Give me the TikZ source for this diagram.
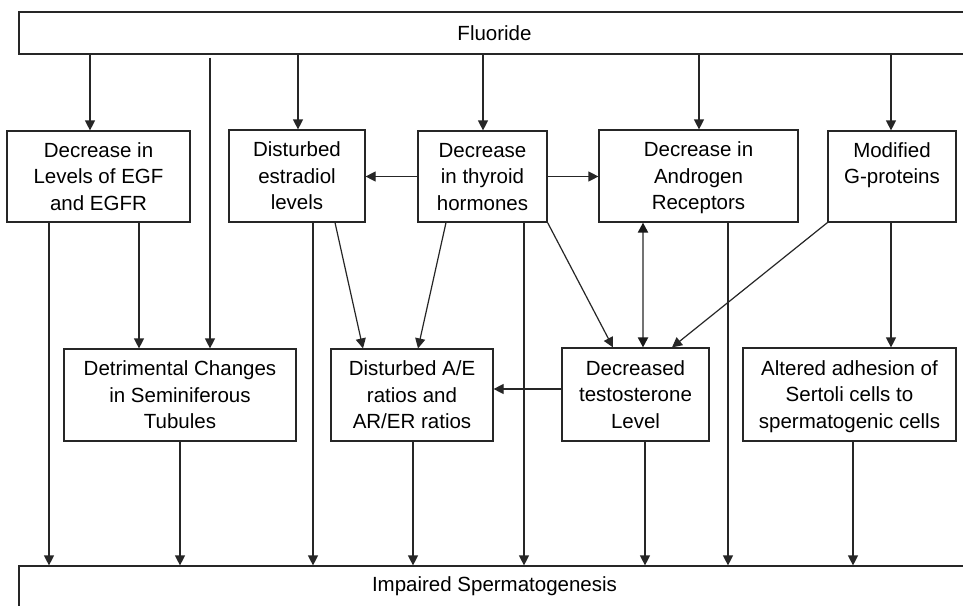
\documentclass[tikz,border=0pt]{standalone}
\usepackage{fontspec}
\setmainfont{Liberation Sans}
\usetikzlibrary{arrows.meta}
\begin{document}
\begin{tikzpicture}[x=1pt,y=-1pt,
  box/.style={draw=black!85,line width=1.2pt,fill=white,align=center,inner sep=0pt,text depth=0pt,
    font=\fontsize{20.5}{26.5}\selectfont},
  arr/.style={draw=black!85,line width=1.2pt,-{Triangle[length=10pt,width=10pt]}},
  darr/.style={draw=black!55,line width=2pt,{Triangle[length=10pt,width=10pt,color=black!90]}-{Triangle[length=10pt,width=10pt,color=black!90]}}]
\useasboundingbox (0,0) rectangle (963,605);
\clip (0,0) rectangle (963,605);
\fill[white] (0,0) rectangle (963,605);
% top and bottom bars
\node[box,minimum width=951pt,minimum height=42pt] (fl) at (494.5,33) {Fluoride};
\node[box,minimum width=951pt,minimum height=54pt] (ib) at (494.5,593) {\raisebox{0pt}[0pt][0pt]{\raisebox{1.5pt}{Impaired Spermatogenesis}}};
% first row
\node[box,minimum width=183pt,minimum height=91pt] (egf) at (98.5,176.5) {Decrease in\\Levels of EGF\\and EGFR};
\node[box,minimum width=136pt,minimum height=92pt] (es) at (297,176) {Disturbed\\estradiol\\levels};
\node[box,minimum width=129pt,minimum height=91pt] (th) at (482.5,176.5) {Decrease\\in thyroid\\hormones};
\node[box,minimum width=199pt,minimum height=92pt] (an) at (698.5,176) {Decrease in\\Androgen\\Receptors};
\node[box,minimum width=128pt,minimum height=91pt] (gp) at (892,176.5) {Modified\\G-proteins\\\strut};
% second row
\node[box,minimum width=232pt,minimum height=92pt] (dc) at (180,395) {Detrimental Changes\\in Seminiferous\\Tubules};
\node[box,minimum width=162pt,minimum height=92pt] (ae) at (412,395) {Disturbed A/E\\ratios and\\AR/ER ratios};
\node[box,minimum width=147pt,minimum height=93pt] (te) at (635.5,394.5) {Decreased\\testosterone\\Level};
\node[box,minimum width=213pt,minimum height=93pt] (se) at (849.5,394.5) {Altered adhesion of\\Sertoli cells to\\spermatogenic cells};
% from Fluoride
\draw[arr] (fl.south -| 90,0) -- (egf.north -| 90,0);
\draw[arr] (fl.south -| 210,0) ++(0,3) -- (dc.north -| 210,0);
\draw[arr] (fl.south -| 298,0) -- (es.north -| 298,0);
\draw[arr] (fl.south -| 483,0) -- (th.north -| 483,0);
\draw[arr] (fl.south -| 699,0) -- (an.north -| 699,0);
\draw[arr] (fl.south -| 891,0) -- (gp.north -| 891,0);
% thyroid sideways
\draw[arr] (th.west) -- (es.east |- th.west);
\draw[arr] (th.east) -- (an.west |- th.east);
% first row to second row
\draw[arr] (egf.south -| 139,0) -- (dc.north -| 139,0);
\draw[arr] (es.south -| 335,0) -- (ae.north -| 363,0);
\draw[arr] (th.south -| 446,0) -- (ae.north -| 418,0);
\draw[arr] (th.south east) -- (te.north -| 613,0);
\draw[darr] (an.south -| 643,0) -- (te.north -| 643,0);
\draw[arr] (gp.south west) -- (te.north -| 672,0);
\draw[arr] (gp.south -| 891,0) -- (se.north -| 891,0);
\draw[arr] (te.west |- 0,389) -- (ae.east |- 0,389);
% down to Impaired Spermatogenesis
\draw[arr] (egf.south -| 49,0) -- (ib.north -| 49,0);
\draw[arr] (dc.south) -- (ib.north -| dc.south);
\draw[arr] (es.south -| 313,0) -- (ib.north -| 313,0);
\draw[arr] (ae.south -| 413,0) -- (ib.north -| 413,0);
\draw[arr] (th.south -| 524,0) -- (ib.north -| 524,0);
\draw[arr] (te.south -| 645,0) -- (ib.north -| 645,0);
\draw[arr] (an.south -| 728,0) -- (ib.north -| 728,0);
\draw[arr] (se.south -| 853,0) -- (ib.north -| 853,0);
\end{tikzpicture}
\end{document}
